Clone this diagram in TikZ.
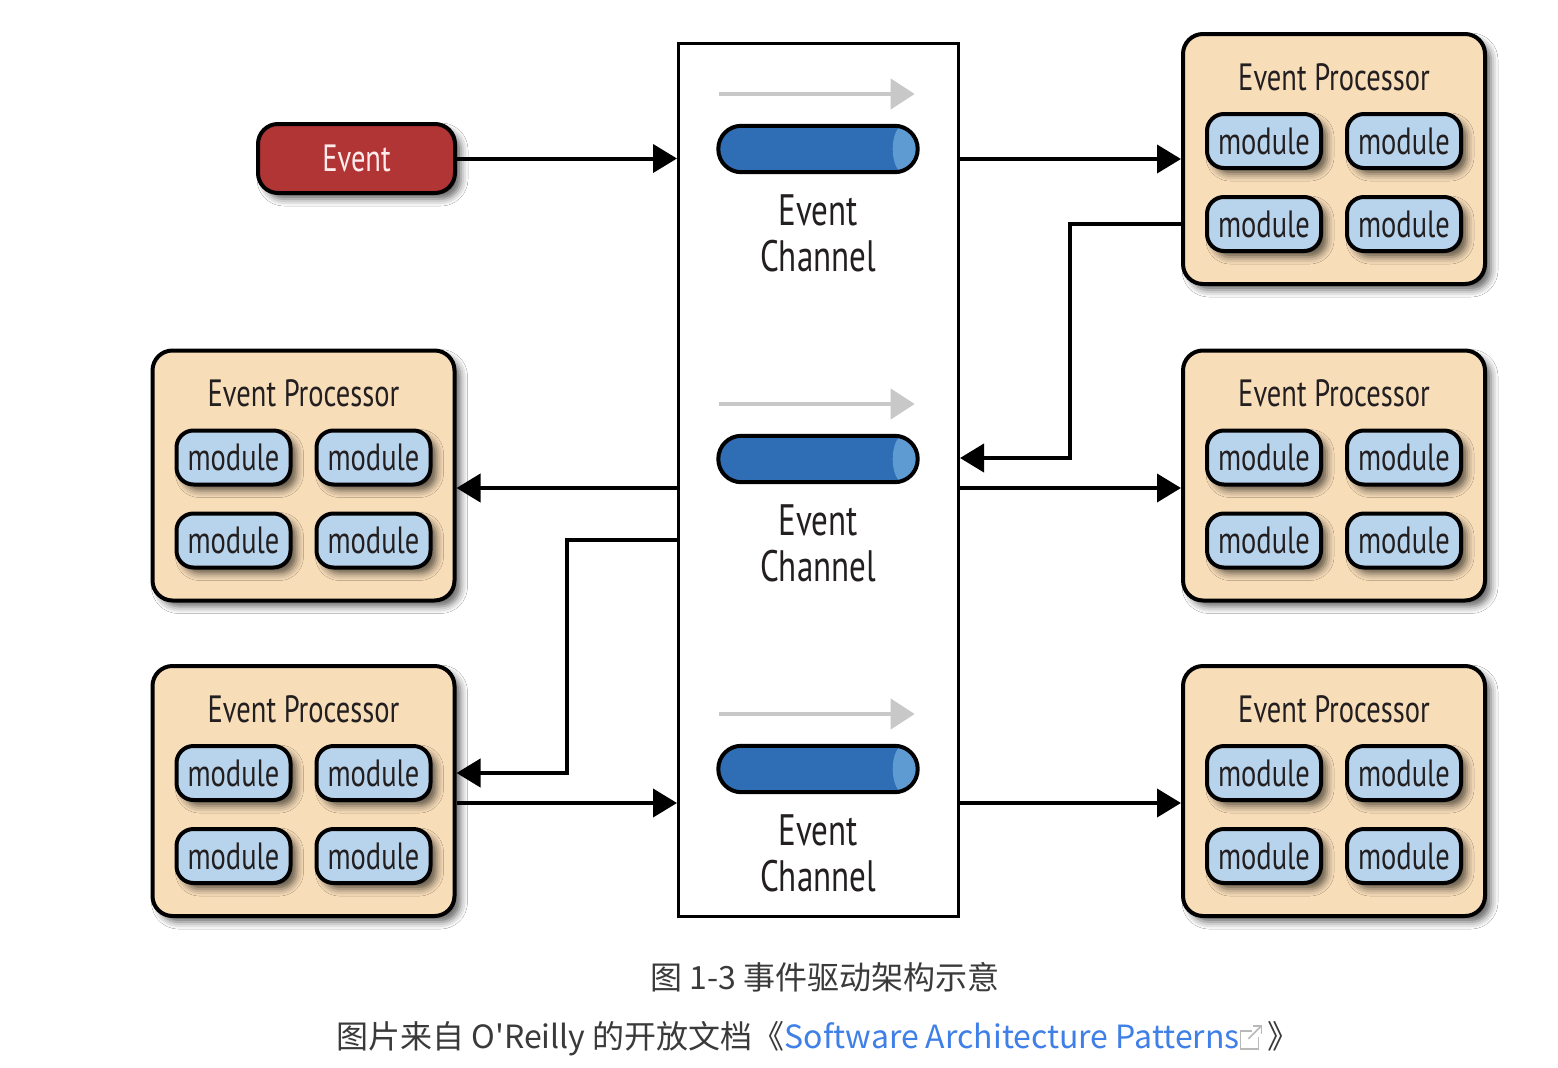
\documentclass[tikz,border=0pt]{standalone}
\usepackage{fontspec}
\newfontfamily\cond[FakeStretch=0.75]{PT Sans}
\newfontfamily\cjk{Noto Sans CJK SC}
\usetikzlibrary{shadows.blur,arrows.meta,calc}
\definecolor{evred}{HTML}{B23535}
\definecolor{peach}{HTML}{F8DDB9}
\definecolor{modblue}{HTML}{B8D4EC}
\definecolor{tube}{HTML}{2F6DB5}
\definecolor{tubecap}{HTML}{5E9BD3}
\definecolor{txt}{HTML}{231F20}
\definecolor{capgray}{HTML}{3A3A3A}
\definecolor{linkblue}{HTML}{3F7FE8}
\definecolor{flowgray}{HTML}{C8C8C8}
\newcommand\procnode[3]{%
  \node[procbox] (#1) at (#2,#3) {};
  \node[titletext] (#1t) at ($(#1.center)+(0,-82)$) {Event Processor};
  \node[modbox] (#1a) at ($(#1.center)+(-70,-18)$) {module};
  \node[modbox] (#1b) at ($(#1.center)+(70,-18)$) {module};
  \node[modbox] (#1c) at ($(#1.center)+(-70,65)$) {module};
  \node[modbox] (#1d) at ($(#1.center)+(70,65)$) {module};
}
\newcommand\channode[2]{%
  \node[tubebox] (#1) at (818,#2) {};
  \begin{scope}
    \clip[rounded corners=23pt] (#1.south west) rectangle (#1.north east);
    \fill[tubecap] ($(#1.east)+(-14,-30)$) rectangle ($(#1.east)+(5,30)$);
    \fill[tubecap] ($(#1.east)+(-14,0)$) ellipse [x radius=11, y radius=24];
  \end{scope}
  \draw[line width=4pt,rounded corners=23pt] (#1.south west) rectangle (#1.north east);
  \coordinate (#1fs) at ($(#1.west)+(1,-55)$);
  \coordinate (#1fe) at ($(#1.east)+(-3,-55)$);
  \draw[flowarr] (#1fs) -- (#1fe);
  \node[chantext] (#1l) at ($(#1.center)+(0,84)$) {Event\\[-4pt]Channel};
}
\begin{document}
\begin{tikzpicture}[x=1pt,y=-1pt,
  shad/.style={blur shadow={shadow xshift=6pt,shadow yshift=-6pt,shadow blur radius=7pt,shadow opacity=60}},
  evbox/.style={draw=black,line width=4pt,fill=evred,rounded corners=20pt,minimum width=197pt,minimum height=69pt,shad,text=white!92!red,font=\cond\fontsize{38}{40}\selectfont,inner sep=0pt},
  procbox/.style={draw=black,line width=4pt,fill=peach,rounded corners=20pt,minimum width=302pt,minimum height=250pt,shad,inner sep=0pt},
  modbox/.style={draw=black,line width=4pt,fill=modblue,rounded corners=17pt,minimum width=114pt,minimum height=54pt,shad,text=txt,font=\cond\fontsize{38}{40}\selectfont,inner sep=0pt},
  titletext/.style={text=txt,font=\cond\fontsize{38}{40}\selectfont,inner sep=0pt},
  chantext/.style={text=txt,font=\cond\fontsize{44}{50}\selectfont,align=center,inner sep=0pt},
  busbox/.style={draw=black,line width=3pt,fill=white,minimum width=280pt,minimum height=873pt,inner sep=0pt},
  tubebox/.style={fill=tube,rounded corners=23pt,minimum width=199pt,minimum height=46pt,inner sep=0pt},
  flowarr/.style={draw=flowgray,line width=4pt,-{Triangle[length=24pt,width=30pt]}},
  arr/.style={draw=black,line width=4pt,-{Triangle[length=24pt,width=28pt]}},
]
\useasboundingbox[fill=white] (0,0) rectangle (1558,1068);
% central bus
\node[busbox] (bus) at (818.5,480) {};
\channode{ch1}{149}
\channode{ch2}{459}
\channode{ch3}{769}
% event
\node[evbox] (ev) at (356.5,158.5) {Event};
% processors
\procnode{pr1}{1334}{159}
\procnode{pr2}{1334}{475.5}
\procnode{pr3}{1334}{791}
\procnode{pl1}{303.5}{475.5}
\procnode{pl2}{303.5}{791}
% connectors
\draw[arr] (ev.east) -- (bus.west |- ev.east);
\draw[arr] (bus.east |- pr1.west) -- (pr1.west);
\coordinate (k1) at (1070,224);
\coordinate (k2) at (1070,458);
\draw[arr] (pr1.west |- k1) -- (k1) -- (k2) -- (bus.east |- k2);
\coordinate (r2) at (1000,488);
\draw[arr] (bus.east |- r2) -- (pr2.west |- r2);
\draw[arr] (bus.west |- r2) -- (pl1.east |- r2);
\coordinate (k3) at (567,540);
\coordinate (k4) at (567,773);
\draw[arr] (bus.west |- k3) -- (k3) -- (k4) -- (pl2.east |- k4);
\coordinate (r3) at (600,803);
\draw[arr] (pl2.east |- r3) -- (bus.west |- r3);
\draw[arr] (bus.east |- r3) -- (pr3.west |- r3);
% caption
\node[text=capgray,font=\cjk\fontsize{32}{38}\selectfont,inner sep=0pt] (cap1) at (825,977) {图 1-3 事件驱动架构示意};
\node[text=capgray,font=\cjk\fontsize{32}{38}\selectfont,inner sep=0pt] (cap2) at (818,1039) {图片来自 O'Reilly 的开放文档《\textcolor{linkblue}{Software Architecture Patterns}\tikz[x=1pt,y=1pt,baseline=0pt]{\draw[gray!55,line width=1.6pt] (12,18) -- (0,18) -- (0,0) -- (18,0) -- (18,12); \draw[gray!55,line width=1.6pt] (8,10) -- (21,23); \draw[gray!55,line width=1.6pt] (13,23) -- (21,23) -- (21,15);}\,》};
\end{tikzpicture}
\end{document}
